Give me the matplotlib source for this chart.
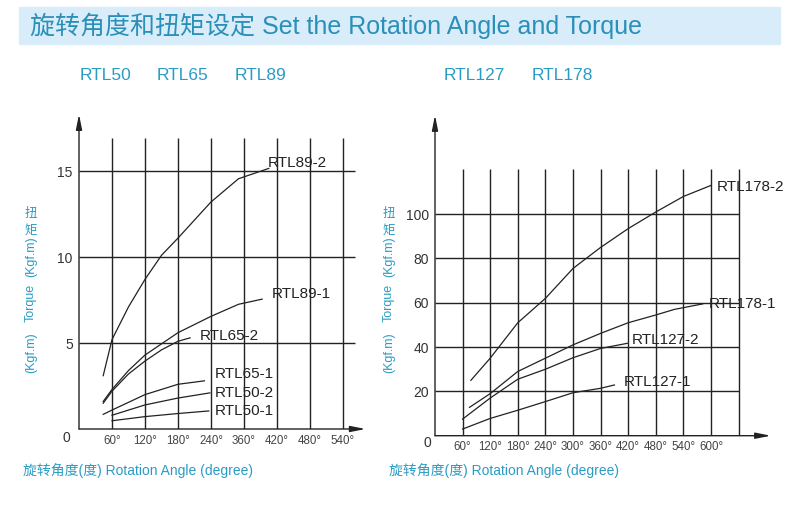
import numpy as np
import matplotlib
matplotlib.use('Agg')
import matplotlib.pyplot as plt
from matplotlib.patches import Rectangle

plt.rcParams['font.family'] = ['Liberation Sans', 'Noto Sans CJK SC']

# ---- data: left chart (RTL50 / RTL65 / RTL89) ----
left_ticks = [60, 120, 180, 240, 300, 360, 420, 480]
left_tick_labels = ['60°', '120°', '180°', '240°', '360°', '420°', '480°', '540°']
left_yticks = [5, 10, 15]

rtl89_2_x = [44, 60, 90, 120, 150, 180, 240, 290, 345]
rtl89_2_y = [3.1, 5.2, 7.1, 8.7, 10.1, 11.1, 13.2, 14.55, 15.15]
rtl89_1_x = [44, 60, 90, 120, 180, 240, 290, 333]
rtl89_1_y = [1.6, 2.3, 3.4, 4.3, 5.6, 6.55, 7.25, 7.55]
rtl65_2_x = [44, 60, 90, 120, 150, 180, 202]
rtl65_2_y = [1.5, 2.2, 3.2, 3.95, 4.6, 5.1, 5.3]
rtl65_1_x = [44, 60, 120, 180, 228]
rtl65_1_y = [0.85, 1.1, 2.0, 2.6, 2.8]
rtl50_2_x = [60, 120, 180, 238]
rtl50_2_y = [0.8, 1.4, 1.8, 2.1]
rtl50_1_x = [60, 120, 180, 236]
rtl50_1_y = [0.48, 0.72, 0.9, 1.05]

# ---- data: right chart (RTL127 / RTL178) ----
right_ticks = [60, 120, 180, 240, 300, 360, 420, 480, 540, 600]
right_tick_labels = ['60°', '120°', '180°', '240°', '300°', '360°', '420°', '480°', '540°', '600°']
right_yticks = [20, 40, 60, 80, 100]

rtl178_2_x = [78, 120, 180, 240, 300, 360, 420, 480, 540, 600]
rtl178_2_y = [25, 35, 51, 62, 75.5, 85, 93.5, 101, 108, 113]
rtl178_1_x = [75, 120, 180, 240, 300, 360, 420, 480, 520, 582]
rtl178_1_y = [12.8, 19, 29, 35, 41, 46.2, 51, 54.5, 57, 59.5]
rtl127_2_x = [60, 120, 180, 240, 300, 360, 418]
rtl127_2_y = [7.5, 17, 25.5, 30, 35.2, 39.4, 41.7]
rtl127_1_x = [60, 120, 180, 240, 300, 360, 390]
rtl127_1_y = [3, 7.8, 11.5, 15.4, 19.4, 21.4, 22.9]

W, H = 800, 511
teal = '#2a9cc4'
ink = '#222222'


def fx(x):
    return x / W


def fy(y):
    return 1 - y / H


fig = plt.figure(figsize=(8, 5.11), dpi=100)

# title banner
fig.patches.append(Rectangle((fx(19), fy(44)), (780 - 19) / W, 37 / H,
                             transform=fig.transFigure, color='#d8edf9', zorder=0))
fig.text(fx(30), fy(26), '旋转角度和扭矩设定 Set the Rotation Angle and Torque',
         fontsize=18, color='#2a8fb9', va='center', ha='left')


def draw_panel(ax, xmax, ymax, vtop, hright, ticks, tick_labels, yticks, arrow_x, arrow_y):
    for s in ax.spines.values():
        s.set_visible(False)
    ax.set_xlim(0, xmax)
    ax.set_ylim(0, ymax)
    ax.vlines(ticks, 0, vtop, color=ink, lw=1.0)
    ax.hlines(yticks, 0, hright, color=ink, lw=1.0)
    ax.annotate('', xy=(arrow_x, 0), xytext=(0, 0), annotation_clip=False,
                arrowprops=dict(arrowstyle='-|>,head_length=0.9,head_width=0.18',
                                color=ink, lw=1.0, shrinkA=0, shrinkB=0))
    ax.annotate('', xy=(0, arrow_y), xytext=(0, 0), annotation_clip=False,
                arrowprops=dict(arrowstyle='-|>,head_length=0.9,head_width=0.18',
                                color=ink, lw=1.0, shrinkA=0, shrinkB=0))
    ax.set_xticks(ticks, tick_labels)
    ax.set_yticks(yticks)
    ax.tick_params(axis='x', length=0, pad=4.0, labelsize=8.3, labelcolor='#444444')
    ax.tick_params(axis='y', length=0, pad=4.5, labelsize=10, labelcolor='#333333')


# left panel
axl = fig.add_axes([fx(79), fy(429), 530 * 33 / 60 / W, 18.6 * 17.2 / H])
draw_panel(axl, 530, 18.6, 16.9, 502, left_ticks, left_tick_labels, left_yticks, 521, 18.3)
for xs, ys, name, lx, ly in [
        (rtl89_2_x, rtl89_2_y, 'RTL89-2', 344, 15.47),
        (rtl89_1_x, rtl89_1_y, 'RTL89-1', 350, 7.85),
        (rtl65_2_x, rtl65_2_y, 'RTL65-2', 220, 5.41),
        (rtl65_1_x, rtl65_1_y, 'RTL65-1', 246, 3.2),
        (rtl50_2_x, rtl50_2_y, 'RTL50-2', 246, 2.09),
        (rtl50_1_x, rtl50_1_y, 'RTL50-1', 246, 1.05)]:
    axl.plot(xs, ys, color=ink, lw=0.9)
    axl.text(lx, ly, name, fontsize=11, color=ink, ha='left', va='center')

# right panel
axr = fig.add_axes([fx(435), fy(435.7), 745 * 27.6 / 60 / W, 146 * 2.215 / H])
draw_panel(axr, 745, 146, 120.5, 660, right_ticks + [660], right_tick_labels + [''],
           right_yticks, 730, 144.7)
for xs, ys, name, lx, ly in [
        (rtl178_2_x, rtl178_2_y, 'RTL178-2', 613, 112.3),
        (rtl178_1_x, rtl178_1_y, 'RTL178-1', 596, 59.5),
        (rtl127_2_x, rtl127_2_y, 'RTL127-2', 428, 43.2),
        (rtl127_1_x, rtl127_1_y, 'RTL127-1', 410, 24.4)]:
    axr.plot(xs, ys, color=ink, lw=0.9)
    axr.text(lx, ly, name, fontsize=11, color=ink, ha='left', va='center')

# origin labels
fig.text(fx(66), fy(438), '0', fontsize=10, color='#333333', ha='center', va='center')
fig.text(fx(427), fy(443), '0', fontsize=10, color='#333333', ha='center', va='center')

# series headers
for name, x in [('RTL50', 80), ('RTL65', 157), ('RTL89', 235),
                ('RTL127', 444), ('RTL178', 532)]:
    fig.text(fx(x), fy(75), name, fontsize=12.5, color=teal, ha='left', va='center')

# y labels
for x0 in (31, 389):
    fig.text(fx(x0), fy(214), '扭', fontsize=9, color=teal, ha='center', va='center')
    fig.text(fx(x0), fy(231), '矩', fontsize=9, color=teal, ha='center', va='center')
    fig.text(fx(x0), fy(257), '(Kgf.m)', fontsize=9, color=teal, rotation=90,
             ha='center', va='center')
    fig.text(fx(x0), fy(303), 'Torque', fontsize=9, color=teal, rotation=90,
             ha='center', va='center')
    fig.text(fx(x0), fy(353), '(Kgf.m)', fontsize=9, color=teal, rotation=90,
             ha='center', va='center')

# x labels
for x0 in (23, 389):
    fig.text(fx(x0), fy(471), '旋转角度(度) Rotation Angle (degree)', fontsize=10,
             color=teal, ha='left', va='center')

fig.savefig('out.png', dpi=100)
